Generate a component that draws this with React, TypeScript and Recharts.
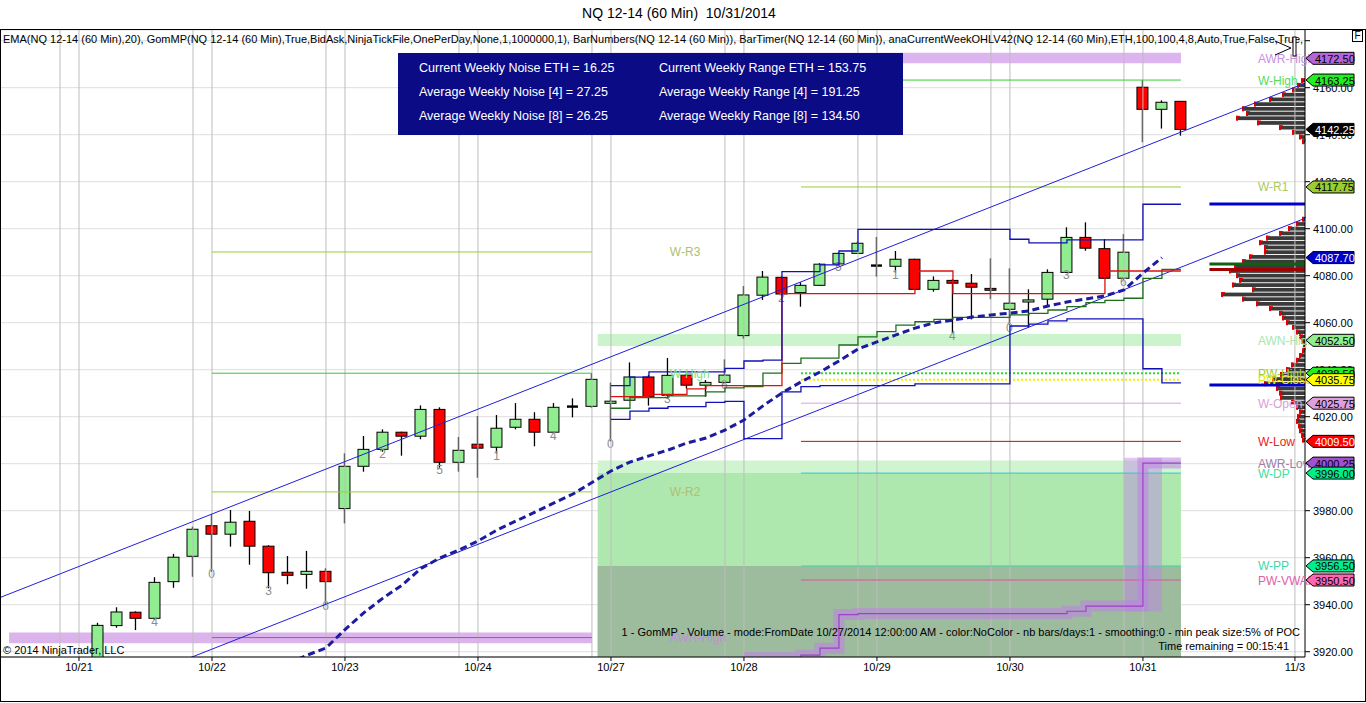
import React from 'react';
import {
  ComposedChart, Bar, Line, XAxis, YAxis, CartesianGrid,
  ReferenceLine, ReferenceArea, ReferenceDot,
} from 'recharts';

const FONT = "Arial, 'Liberation Sans', Helvetica, sans-serif";

// x = bar index, bar 0 = first 60 min bar of 10/21, 7 bars per session
const dayLabels = ['10/21', '10/22', '10/23', '10/24', '10/27', '10/28', '10/29', '10/30', '10/31', '11/3'];
const dayStartBar = [0, 7, 14, 21, 28, 35, 42, 49, 56, 64];

const firstBar = 1;
const opens = [
  3914, 3931.1, 3936.8, 3934.2, 3949.8, 3960.6, 3973.6, 3970.0, 3975.5, 3964.9,
  3953.8, 3952.9, 3954.2, 3980.9, 3998.9, 4006.1, 4013.4, 4011.7, 4023.1, 4000.6,
  4008.3, 4007.0, 4015.5, 4018.9, 4013.4, 4024.3, 4024.4, 4025.7, 4027.0, 4036.9,
  4029.1, 4037.7, 4033.4, 4034.6, 4054.5, 4071.7, 4079.3, 4072.8, 4075.9, 4085.0,
  4089.5, 4084.3, 4084.0, 4087.0, 4074.2, 4078.0, 4076.8, 4074.6, 4065.7, 4068.8,
  4070.0, 4081.4, 4096.3, 4091.5, 4078.9, 4160.2, 4150.8, 4154.2,
];
const highs = [
  3932.3, 3938.9, 3937.2, 3951.7, 3961.6, 3973.2, 3978.5, 3980.3, 3979.9, 3965.3,
  3960.7, 3962.9, 3955.5, 4004.4, 4011.8, 4014.6, 4013.6, 4024.8, 4024.0, 4011.4,
  4020.3, 4020.7, 4025.8, 4021.9, 4025.8, 4027.8, 4038.5, 4034.5, 4043.1, 4037.7,
  4045.0, 4038.5, 4035.6, 4044.4, 4075.6, 4082.0, 4079.6, 4077.2, 4085.3, 4089.8,
  4094.5, 4096.5, 4090.5, 4087.2, 4079.7, 4078.5, 4080.7, 4087.4, 4083.1, 4074.2,
  4082.7, 4100.6, 4102.7, 4095.6, 4097.7, 4163.25, 4154.6, 4154.2,
];
const lows = [
  3911, 3930.2, 3929.2, 3933.5, 3947.2, 3951.9, 3954.0, 3964.7, 3957.0, 3947.0,
  3948.7, 3946.8, 3940.3, 3974.6, 3996.6, 4005.1, 4003.4, 4010.4, 3998.3, 3996.6,
  3994.0, 4004.4, 4014.6, 4007.4, 4012.9, 4019.7, 4023.8, 4009.5, 4026.8, 4024.7,
  4028.5, 4031.9, 4028.5, 4034.4, 4053.2, 4069.7, 4071.5, 4066.8, 4075.6, 4084.8,
  4089.3, 4079.6, 4081.3, 4074.0, 4073.2, 4055.5, 4061.4, 4070.0, 4059.0, 4057.9,
  4067.1, 4081.2, 4090.6, 4078.7, 4078.2, 4136.8, 4142.6, 4139.6,
];
const closes = [
  3931.2, 3936.9, 3934.2, 3949.5, 3960.2, 3972.1, 3970.0, 3975.1, 3964.9, 3953.6,
  3952.5, 3954.2, 3949.8, 3998.9, 4006.1, 4013.4, 4011.7, 4023.1, 4000.6, 4005.7,
  4006.6, 4015.1, 4018.9, 4013.4, 4024.0, 4024.3, 4035.9, 4026.6, 4036.9, 4028.4,
  4037.6, 4033.4, 4034.6, 4037.7, 4071.8, 4079.4, 4072.2, 4075.9, 4084.9, 4089.5,
  4093.8, 4084.3, 4087.0, 4074.2, 4078.0, 4076.8, 4075.1, 4073.8, 4068.3, 4069.7,
  4081.4, 4096.3, 4091.7, 4078.9, 4090.0, 4150.8, 4153.8, 4142.25,
];

// EMA(20), bars 11..57
const emaFrom = 11;
const ema20 = [
  3915.0, 3918.5, 3921.6, 3929.4, 3936.6, 3942.8, 3948.3, 3955.4, 3959.9, 3963.3,
  3967.1, 3971.8, 3975.6, 3979.4, 3983.3, 3987.1, 3992.0, 3996.9, 4000.7, 4003.3,
  4005.8, 4008.8, 4010.9, 4014.3, 4018.6, 4024.6, 4030.1, 4034.8, 4039.0, 4043.7,
  4048.8, 4051.8, 4054.8, 4057.7, 4059.9, 4061.1, 4062.4, 4063.3, 4064.1, 4065.0,
  4067.1, 4068.8, 4070.1, 4071.4, 4073.9, 4081.1, 4087.7,
];

// GomMP developing levels, bars 28..58
const gomFrom = 28;
const vah = [
  4033.2, 4036.8, 4039.1, 4039.1, 4039.1, 4039.1, 4040.6, 4043.7, 4044.1, 4081.7,
  4081.7, 4084.6, 4090.5, 4099.7, 4099.7, 4099.7, 4099.7, 4099.7, 4099.7, 4099.7,
  4099.7, 4095.5, 4094.0, 4094.0, 4095.2, 4095.2, 4095.2, 4095.2, 4110.4, 4110.4, 4110.4,
];
const val = [
  4018.9, 4022.4, 4023.6, 4024.3, 4024.3, 4026.1, 4026.5, 4010.7, 4010.7, 4030.6,
  4032.8, 4033.2, 4033.2, 4033.2, 4033.2, 4033.2, 4034.0, 4034.0, 4034.0, 4034.0,
  4034.0, 4058.6, 4059.4, 4060.8, 4061.6, 4061.6, 4061.6, 4061.6, 4040.4, 4034.4, 4034.4,
];
const poc = [
  4028.5, 4028.5, 4029.5, 4029.5, 4031.8, 4033.2, 4033.2, 4033.2, 4033.2, 4072.4,
  4072.4, 4072.4, 4072.4, 4072.4, 4072.4, 4072.4, 4082.0, 4082.0, 4072.4, 4072.4,
  4072.4, 4072.4, 4072.4, 4072.4, 4072.4, 4072.4, 4082.0, 4082.0, 4082.0, 4082.0, 4082.0,
];
const vwap = [
  4023.6, 4028.1, 4028.1, 4028.9, 4028.9, 4030.6, 4032.3, 4032.8, 4038.5, 4042.7,
  4044.9, 4044.9, 4050.5, 4054.0, 4056.2, 4059.0, 4060.4, 4061.4, 4062.3, 4062.3,
  4062.3, 4063.3, 4064.0, 4065.4, 4066.8, 4068.5, 4069.5, 4070.4, 4078.9, 4082.7, 4082.7,
];

// developing AWR-Low, bars 35..58
const awrFrom = 35;
const awrLow = [
  3917.5, 3917.5, 3917.5, 3918.5, 3921.5, 3935.8, 3936.2, 3936.2, 3936.2, 3936.2,
  3936.2, 3936.2, 3936.2, 3936.2, 3936.2, 3936.2, 3936.2, 3937.2, 3939.4, 3939.4,
  3939.4, 4000.25, 4000.25, 4000.25,
];

// current week levels
const levelNames = ['AWR-High', 'W-High', 'W-R1', 'AWN-High', 'PW-High', 'PW-Close', 'W-Open', 'W-Low', 'AWR-Low', 'W-DP', 'W-PP', 'PW-VWAP'];
const levelValues = [4172.5, 4163.25, 4117.75, 4052.5, 4038.5, 4035.75, 4025.75, 4009.5, 4000.25, 3996.0, 3956.5, 3950.5];

// previous week levels
const prevNames = ['W-R3', 'W-High', 'W-R2', 'AWR-High'];
const prevValues = [4090.1, 4038.5, 3988.0, 3926.0];

const lastClose = 4142.25;
const lastEma = 4087.7;

// trend channel anchors (bar, price)
const channelBars = [6, 58];
const channelUpper = [3975.4, 4141.1];
const channelLower = [3917.9, 4083.6];

// volume profile since 10/27 (price level, volume)
const profilePrices = [
  4163, 4161, 4159, 4157, 4155, 4153, 4151, 4149, 4147, 4145, 4143, 4141, 4139, 4137,
  4104, 4102, 4100, 4098, 4096, 4094, 4092, 4090, 4088, 4086, 4084, 4082, 4080, 4078,
  4076, 4074, 4072, 4070, 4068, 4066, 4064, 4062, 4060, 4058, 4056, 4054, 4052, 4050,
  4048, 4046, 4044, 4042, 4040, 4038, 4036, 4034, 4032, 4030, 4028, 4026, 4024, 4022,
  4020, 4018, 4016, 4014, 4012, 4010,
];
const profileVolumes = [
  3, 7, 12, 22, 35, 50, 62, 58, 68, 47, 25, 12, 5, 2,
  2, 8, 16, 25, 38, 45, 40, 40, 55, 62, 70, 75, 68, 65,
  72, 52, 83, 62, 48, 35, 25, 22, 18, 12, 8, 5, 3, 1,
  2, 5, 8, 13, 18, 24, 32, 40, 28, 25, 24, 13, 8, 5,
  7, 8, 6, 5, 3, 2,
];
const profileVah = 4110.5;
const profileVal = 4033.5;
const profileVwap = 4085.0;
const profilePoc = 4082.6;

const yTicks = [3920, 3940, 3960, 3980, 4000, 4020, 4040, 4060, 4080, 4100, 4120, 4140, 4160, 4180];

const infoLeft = ['Current Weekly Noise ETH = 16.25', 'Average Weekly Noise [4] = 27.25', 'Average Weekly Noise [8] = 26.25'];
const infoRight = ['Current Weekly Range ETH = 153.75', 'Average Weekly Range [4] = 191.25', 'Average Weekly Range [8] = 134.50'];

// ---- chart window ----
const X_MIN = -4.105;
const X_MAX = 64.53;
const Y_MIN = 3917.74;
const Y_MAX = 4184.55;
const WEEK_FROM = 27.3;
const LINES_FROM = 38;
const LAST_BAR = 58;
const PREV_FROM = 7;
const PREV_TO = 27;
const PROFILE_UNIT = 1 / 19;
const MARGIN = { top: 30, right: 0, bottom: 0, left: 1 };

const LEVEL_STYLE: Record<string, any> = {
  'AWR-High': { label: '#c990e2', flag: '#b466d6', text: '#000' },
  'W-High': { line: '#33cc33', label: '#55dd55', flag: '#22ee22', text: '#000' },
  'W-R1': { line: '#9acd32', label: '#a9c862', flag: '#9acd32', text: '#000' },
  'AWN-High': { label: '#a9e6a9', flag: '#90ee90', text: '#000' },
  'PW-High': { line: '#22dd22', dash: '2 2', width: 2, label: '#a0d020', flag: '#22ee22', text: '#000' },
  'PW-Close': { line: '#eeee00', dash: '2 2', width: 2, label: '#e8e800', flag: '#ffff00', text: '#000' },
  'W-Open': { line: '#dda0dd', label: '#d8a0d8', flag: '#dda0dd', text: '#000' },
  'W-Low': { line: '#dd0000', label: '#ee2020', flag: '#ff0000', text: '#fff' },
  'AWR-Low': { label: '#9a80aa', flag: '#a050d0', text: '#000' },
  'W-DP': { line: '#30c8c8', label: '#40e0a0', flag: '#00ee88', text: '#000' },
  'W-PP': { line: '#30e0b0', label: '#40d8a8', flag: '#00ee90', text: '#000' },
  'PW-VWAP': { line: '#e0509f', label: '#e060a8', flag: '#ff66b0', text: '#000' },
};
const PREV_STYLE: Record<string, any> = {
  'W-R3': { line: '#9acd32', label: '#b0c070' },
  'W-High': { line: '#33cc33', label: '#80e080' },
  'W-R2': { line: '#9acd32', label: '#b0c070' },
  'AWR-High': { line: '#a050c0', label: '#c090d8' },
};

const pick = (arr: number[], from: number, i: number) =>
  i >= from && i - from < arr.length ? arr[i - from] : null;

const rows = opens.map((o, k) => {
  const i = firstBar + k;
  return {
    i,
    open: o,
    high: highs[k],
    low: lows[k],
    close: closes[k],
    range: [lows[k], highs[k]],
    ema: pick(ema20, emaFrom, i),
    vah: pick(vah, gomFrom, i),
    val: pick(val, gomFrom, i),
    poc: pick(poc, gomFrom, i),
    vwap: pick(vwap, gomFrom, i),
    awrLow: pick(awrLow, awrFrom, i),
  };
});

const gridBars = dayStartBar.flatMap((b, k) => (k < dayStartBar.length - 1 ? [b - 1, b] : [b]));

const extend = (prices: number[]) => {
  const slope = (prices[1] - prices[0]) / (channelBars[1] - channelBars[0]);
  const a = X_MIN - 2;
  const b = X_MAX + 2;
  return [
    { x: a, y: prices[0] + (a - channelBars[0]) * slope },
    { x: b, y: prices[0] + (b - channelBars[0]) * slope },
  ];
};

// band drawn around the AWR-Low jump on 10/31
const jumpBar = awrFrom + awrLow.findIndex((v, k) => k > 0 && v - awrLow[k - 1] > 20);

const Candle = (props: any) => {
  const { x, y, width, height, payload } = props;
  if (!payload || payload.high == null) return null;
  const { open, high, low, close, i } = payload;
  const cx = x + width / 2;
  const span = high - low;
  const py = (v: number) => (span > 0 ? y + ((high - v) / span) * height : y);
  const top = py(Math.max(open, close));
  const bot = py(Math.min(open, close));
  const bw = 11;
  const doji = Math.abs(close - open) < 0.05;
  return (
    <g>
      <line x1={cx} x2={cx} y1={y} y2={y + height} stroke="#000" strokeWidth={1.3} />
      {doji ? (
        <line x1={cx - bw / 2} x2={cx + bw / 2} y1={top} y2={top} stroke="#000" strokeWidth={2.4} />
      ) : (
        <rect x={cx - bw / 2} y={top} width={bw} height={Math.max(bot - top, 1.5)}
          fill={close > open ? '#90ee90' : '#ff0000'} stroke="#000" strokeWidth={1} />
      )}
      {i % 3 === 1 && i < LAST_BAR && (
        <text x={cx} y={y + height + 6.5} textAnchor="middle" fontSize={12} fill="#8c8c8c" fontFamily={FONT}>
          {i % 7}
        </text>
      )}
    </g>
  );
};

const ProfileRow = (p: any) => (
  <g>
    <rect x={p.x} y={p.y} width={p.width} height={p.height} fill="#3a3a3a" />
    <line x1={p.x} x2={p.x} y1={p.y - 0.6} y2={p.y + p.height + 0.6} stroke="#e00000" strokeWidth={2} />
    <line x1={p.x - 1} x2={p.x + 3} y1={p.y} y2={p.y} stroke="#e00000" strokeWidth={1} />
  </g>
);

const Flag = ({ cx, cy, fill, color, text }: any) => (
  <g>
    <path d={`M${cx + 1},${cy} L${cx + 8},${cy - 6} L${cx + 49},${cy - 6} L${cx + 49},${cy + 6} L${cx + 8},${cy + 6} Z`}
      fill={fill} stroke="#000" strokeWidth={1} />
    <text x={cx + 10} y={cy + 0.5} dominantBaseline="central" fontSize={11} fill={color} fontFamily={FONT}>{text}</text>
  </g>
);

const LevelLabel = ({ cx, cy, color, text }: any) => (
  <text x={cx} y={cy + 0.5} dominantBaseline="central" fontSize={12} fill={color} fontFamily={FONT}>{text}</text>
);

const flagItems = [
  { v: levelValues[0], ...LEVEL_STYLE['AWR-High'] },
  { v: levelValues[1], ...LEVEL_STYLE['W-High'] },
  { v: lastClose, flag: '#000', text: '#fff' },
  { v: levelValues[2], ...LEVEL_STYLE['W-R1'] },
  { v: lastEma, flag: '#0000c8', text: '#fff' },
  ...levelNames.slice(3).map((n, k) => ({ v: levelValues[k + 3], ...LEVEL_STYLE[n] })),
];

const abs = (style: React.CSSProperties): React.CSSProperties => ({ position: 'absolute', fontFamily: FONT, whiteSpace: 'pre', ...style });

export default function App() {
  return (
    <div style={{ position: 'relative', width: 1366, height: 703, background: '#fff', overflow: 'hidden' }}>
      <style>{'body{margin:0}'}</style>
      <ComposedChart
        width={1366}
        height={703}
        data={rows}
        margin={MARGIN}
        style={{ fontFamily: FONT }}
      >
        <CartesianGrid vertical={false} stroke="#dedede" />
        <XAxis
          type="number"
          dataKey="i"
          domain={[X_MIN, X_MAX]}
          allowDataOverflow
          ticks={dayStartBar}
          interval={0}
          tickFormatter={(v: number) => dayLabels[dayStartBar.indexOf(v)] ?? ''}
          height={46}
          tickSize={4}
          tickMargin={2}
          stroke="#000"
          tick={{ fill: '#000', fontSize: 11 }}
        />
        <YAxis
          orientation="right"
          domain={[Y_MIN, Y_MAX]}
          allowDataOverflow
          ticks={yTicks}
          interval={0}
          tickFormatter={(v: number) => (v === Y_MAX - (Y_MAX % 20) ? '' : v.toFixed(2))}
          width={61}
          tickSize={5}
          tickMargin={3}
          stroke="#000"
          tick={{ fill: '#000', fontSize: 11 }}
        />

        {/* shaded zones */}
        <ReferenceArea x1={WEEK_FROM} x2={LAST_BAR} y1={Y_MIN} y2={levelValues[9]} fill="#aee8ae" fillOpacity={1} ifOverflow="hidden" />
        <ReferenceArea x1={WEEK_FROM} x2={LAST_BAR} y1={levelValues[9]} y2={4001.4} fill="#d0f4d0" fillOpacity={1} ifOverflow="hidden" />
        <ReferenceArea x1={WEEK_FROM} x2={LAST_BAR} y1={Y_MIN} y2={levelValues[10]} fill="#9dbb9d" fillOpacity={1} ifOverflow="hidden" />
        <ReferenceArea x1={WEEK_FROM} x2={LAST_BAR} y1={4050.1} y2={4055.2} fill="#ccf4cc" fillOpacity={1} ifOverflow="hidden" />
        <ReferenceArea x1={WEEK_FROM} x2={LAST_BAR} y1={4170.4} y2={4174.9} fill="#dcb4f0" fillOpacity={1} ifOverflow="hidden" />
        <ReferenceArea x1={-3.68} x2={PREV_TO} y1={3923.6} y2={3928.2} fill="#dcb4ec" fillOpacity={1} ifOverflow="hidden" />

        {gridBars.map((b) => (
          <ReferenceLine key={`g${b}`} x={b} stroke="#bdbdbd" strokeWidth={1} ifOverflow="hidden" />
        ))}

        {/* previous week labels sit behind the candles */}
        {prevNames.map((n, k) => (
          <ReferenceDot key={`pl${n}`} x={31.1} y={prevValues[k]} r={0} ifOverflow="visible"
            shape={(p: any) => <LevelLabel cx={p.cx} cy={p.cy} color={PREV_STYLE[n].label} text={n} />} />
        ))}

        <Bar dataKey="range" barSize={12} shape={Candle} isAnimationActive={false} />

        {/* previous week levels */}
        {prevNames.map((n, k) => (
          <ReferenceLine key={`p${n}`} segment={[{ x: PREV_FROM, y: prevValues[k] }, { x: PREV_TO, y: prevValues[k] }]}
            stroke={PREV_STYLE[n].line} strokeWidth={1} ifOverflow="hidden" />
        ))}

        {/* current week levels */}
        {levelNames.map((n, k) => {
          const s = LEVEL_STYLE[n];
          if (!s.line) return null;
          return (
            <ReferenceLine key={`l${n}`} segment={[{ x: LINES_FROM, y: levelValues[k] }, { x: LAST_BAR, y: levelValues[k] }]}
              stroke={s.line} strokeWidth={s.width ?? 1} strokeDasharray={s.dash} ifOverflow="hidden" />
          );
        })}

        {/* trend channel */}
        <ReferenceLine segment={extend(channelUpper)} stroke="#2020d8" strokeWidth={1} ifOverflow="hidden" />
        <ReferenceLine segment={extend(channelLower)} stroke="#2020d8" strokeWidth={1} ifOverflow="hidden" />

        <ReferenceArea x1={jumpBar - 1} x2={jumpBar + 1} y1={awrLow[jumpBar - awrFrom - 1] - 2.3} y2={awrLow[jumpBar - awrFrom] + 2.3}
          fill="#be82e6" fillOpacity={0.45} ifOverflow="hidden" />
        <Line dataKey="awrLow" type="stepAfter" stroke="#be82e6" strokeOpacity={0.55} strokeWidth={11} dot={false} isAnimationActive={false} />
        <Line dataKey="awrLow" type="stepAfter" stroke="#a040c8" strokeWidth={1.2} dot={false} isAnimationActive={false} />
        <Line dataKey="vwap" type="stepAfter" stroke="#1e6e1e" strokeWidth={1.3} dot={false} isAnimationActive={false} />
        <Line dataKey="poc" type="stepAfter" stroke="#dd1010" strokeWidth={1.3} dot={false} isAnimationActive={false} />
        <Line dataKey="vah" type="stepAfter" stroke="#1010b8" strokeWidth={1.3} dot={false} isAnimationActive={false} />
        <Line dataKey="val" type="stepAfter" stroke="#1010b8" strokeWidth={1.3} dot={false} isAnimationActive={false} />
        <Line dataKey="ema" type="linear" stroke="#1c1ca0" strokeWidth={3} strokeDasharray="7 4" dot={false} isAnimationActive={false} />

        {/* current week level labels */}
        {levelNames.map((n, k) => (
          <ReferenceDot key={`ll${n}`} x={62.05} y={levelValues[k]} r={0} ifOverflow="visible"
            shape={(p: any) => <LevelLabel cx={p.cx} cy={p.cy} color={LEVEL_STYLE[n].label} text={n} />} />
        ))}

        {/* volume profile */}
        {profilePrices.map((p, k) => (
          <ReferenceArea key={`vp${p}`} x1={X_MAX - profileVolumes[k] * PROFILE_UNIT} x2={X_MAX}
            y1={p - 0.8} y2={p + 0.8} ifOverflow="visible" shape={ProfileRow} />
        ))}
        <ReferenceLine segment={[{ x: 59.5, y: profileVah }, { x: X_MAX, y: profileVah }]} stroke="#0000cc" strokeWidth={3} ifOverflow="visible" />
        <ReferenceLine segment={[{ x: 59.5, y: profileVal }, { x: X_MAX, y: profileVal }]} stroke="#0000cc" strokeWidth={3} ifOverflow="visible" />
        <ReferenceLine segment={[{ x: 59.5, y: profileVwap }, { x: X_MAX, y: profileVwap }]} stroke="#106010" strokeWidth={3} ifOverflow="visible" />
        <ReferenceLine segment={[{ x: 59.5, y: profilePoc }, { x: X_MAX, y: profilePoc }]} stroke="#a00000" strokeWidth={3} ifOverflow="visible" />
      </ComposedChart>

      {/* price flags: same scales, layered above the axis labels */}
      <div style={{ position: 'absolute', left: 0, top: 0, pointerEvents: 'none' }}>
        <ComposedChart width={1366} height={703} data={rows} margin={{ ...MARGIN, right: 61, bottom: 46 }}>
          <XAxis type="number" dataKey="i" domain={[X_MIN, X_MAX]} allowDataOverflow hide />
          <YAxis domain={[Y_MIN, Y_MAX]} allowDataOverflow hide />
          {flagItems.map((f, k) => (
            <ReferenceDot key={`f${k}`} x={X_MAX} y={f.v} r={0} ifOverflow="visible"
              shape={(p: any) => <Flag cx={p.cx} cy={p.cy} fill={f.flag} color={f.text} text={f.v.toFixed(2)} />} />
          ))}
        </ComposedChart>
      </div>

      {/* frame + texts */}
      <div style={{ position: 'absolute', left: 0, top: 29, width: 1366, height: 673, border: '1px solid #000', boxSizing: 'border-box', pointerEvents: 'none' }} />
      <div style={abs({ left: 0, top: 5, width: 1358, textAlign: 'center', fontSize: 14, lineHeight: '16px' })}>NQ 12-14 (60 Min)  10/31/2014</div>
      <div style={abs({ left: 3, top: 33, width: 1300, overflow: 'hidden', fontSize: 11, lineHeight: '13px' })}>
        EMA(NQ 12-14 (60 Min),20), GomMP(NQ 12-14 (60 Min),True,BidAsk,NinjaTickFile,OnePerDay,None,1,1000000,1), BarNumbers(NQ 12-14 (60 Min)), BarTimer(NQ 12-14 (60 Min)), anaCurrentWeekOHLV42(NQ 12-14 (60 Min),ETH,100,100,4,8,Auto,True,False,True,True)
      </div>
      <div style={{ position: 'absolute', left: 1352, top: 30, width: 11, height: 12, border: '1px solid #000', boxSizing: 'border-box', fontFamily: FONT, fontSize: 10, lineHeight: '10px', textAlign: 'center', background: '#fff' }}>F</div>
      <svg style={{ position: 'absolute', left: 1274, top: 36 }} width={26} height={22}>
        <path d="M1,5 L17,12 L1,19" fill="none" stroke="#000" strokeWidth={1} />
        <rect x={19} y={1} width={3} height={19} fill="#fff" stroke="#000" strokeWidth={1} />
      </svg>
      <div style={{ position: 'absolute', left: 398, top: 53, width: 505, height: 82, background: '#0b0b86' }}>
        {infoLeft.map((t, k) => (
          <div key={`il${k}`} style={abs({ left: 21, top: 8 + k * 24, color: '#fff', fontSize: 12.5, lineHeight: '15px' })}>{t}</div>
        ))}
        {infoRight.map((t, k) => (
          <div key={`ir${k}`} style={abs({ left: 261, top: 8 + k * 24, color: '#fff', fontSize: 12.5, lineHeight: '15px' })}>{t}</div>
        ))}
      </div>
      <div style={abs({ right: 66, top: 626, fontSize: 11, lineHeight: '13px', textAlign: 'right' })}>
        1 - GomMP - Volume - mode:FromDate 10/27/2014 12:00:00 AM - color:NoColor - nb bars/days:1 - smoothing:0 - min peak size:5% of POC
      </div>
      <div style={abs({ right: 77, top: 640, fontSize: 11, lineHeight: '13px', textAlign: 'right' })}>Time remaining = 00:15:41</div>
      <div style={abs({ left: 3, top: 644, fontSize: 11, lineHeight: '13px' })}>© 2014 NinjaTrader, LLC</div>
    </div>
  );
}
